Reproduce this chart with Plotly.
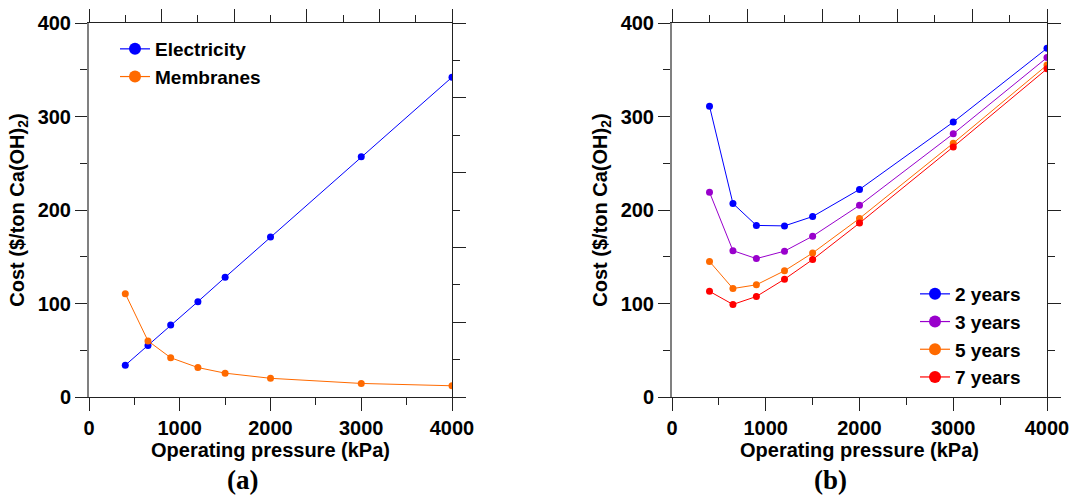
import plotly.graph_objects as go

# ---- data ----
pressure = [400, 650, 900, 1200, 1500, 2000, 3000, 4000]
electricity = [34, 55, 77, 102, 128, 171, 257, 342]
membranes = [110.5, 60, 42, 31.5, 25.5, 20, 14.5, 12]

years_labels = ["2 years", "3 years", "5 years", "7 years"]
cost_2y = [311, 207, 183.5, 183, 193, 222, 294, 373]
cost_3y = [219, 156.5, 148, 156, 172, 205, 281.5, 363]
cost_5y = [145, 116, 120, 135, 154, 191, 271.5, 355]
cost_7y = [113, 99, 107.5, 126, 147, 186, 267.5, 351]

x_ticks = [0, 1000, 2000, 3000, 4000]
y_ticks = [0, 100, 200, 300, 400]
panel_labels = ["(a)", "(b)"]

BLUE = "#0000ff"
ORANGE = "#ff6a00"
PURPLE = "#9900cc"
RED = "#ff0000"

FONT = "Arial, Liberation Sans, sans-serif"
AX = "#222222"

W, H = 1071, 496
T, B = 23, 99
PH = H - T - B

fig = go.Figure()

def add_series(x, y, color, name, xa, ya, legend):
    fig.add_trace(go.Scatter(x=x, y=y, mode="lines+markers", name=name,
                             line=dict(color=color, width=1),
                             marker=dict(color=color, size=7),
                             xaxis=xa, yaxis=ya, showlegend=False, hoverinfo="skip"))
    fig.add_trace(go.Scatter(x=[None], y=[None], mode="lines+markers", name=name,
                             line=dict(color=color, width=1.2),
                             marker=dict(color=color, size=12),
                             xaxis=xa, yaxis=ya, showlegend=True, legend=legend))

add_series(pressure, electricity, BLUE, "Electricity", "x", "y", "legend")
add_series(pressure, membranes, ORANGE, "Membranes", "x", "y", "legend")

for vals, col, lab in zip([cost_2y, cost_3y, cost_5y, cost_7y],
                          [BLUE, PURPLE, ORANGE, RED], years_labels):
    add_series(pressure, vals, col, lab, "x2", "y2", "legend2")

tickfont = dict(family=FONT, size=20, color="black", weight="bold")
titlefont = dict(family=FONT, size=20, color="black", weight="bold")

def xmain(domain, anchor):
    return dict(domain=domain, anchor=anchor, range=[0, 4000], tickvals=x_ticks,
                ticks="outside", ticklen=13, tickwidth=1.3, tickcolor=AX,
                minor=dict(dtick=500, tick0=0, ticks="outside", ticklen=7,
                           tickwidth=1.3, tickcolor=AX),
                showline=True, linecolor=AX, linewidth=1.3, showgrid=False,
                zeroline=False, tickfont=tickfont, automargin=False,
                title=dict(text="Operating pressure (kPa)", font=titlefont, standoff=4))

def ymain(anchor, standoff):
    return dict(domain=[0, 1], anchor=anchor, range=[0, 400], tickvals=y_ticks,
                ticks="outside", ticklen=12, tickwidth=1.3, tickcolor=AX,
                minor=dict(dtick=50, tick0=0, ticks="outside", ticklen=7,
                           tickwidth=1.3, tickcolor=AX),
                showline=True, linecolor="#808080", linewidth=2, showgrid=False,
                zeroline=False, tickfont=tickfont, automargin=False,
                title=dict(text="Cost ($/ton Ca(OH)<sub>2</sub>)", font=titlefont,
                           standoff=standoff))

def xtop(overlay, anchor):
    return dict(overlaying=overlay, anchor=anchor, side="top", range=[0, 4000],
                dtick=800, tick0=0, ticks="outside", ticklen=13, tickwidth=1.3,
                tickcolor=AX, minor=dict(dtick=400, tick0=0, ticks="outside",
                                         ticklen=7, tickwidth=1.3, tickcolor=AX),
                showline=True, linecolor=AX, linewidth=1.3, showgrid=False,
                zeroline=False, showticklabels=False, automargin=False)

def yright(overlay, anchor, major, minor):
    return dict(overlaying=overlay, anchor=anchor, side="right", range=[0, 400],
                dtick=major, tick0=0, ticks="outside", ticklen=13, tickwidth=1.3,
                tickcolor=AX, minor=dict(dtick=minor, tick0=0, ticks="outside",
                                         ticklen=7, tickwidth=1.3, tickcolor=AX),
                showline=True, linecolor=AX, linewidth=1.3, showgrid=False,
                zeroline=False, showticklabels=False, automargin=False)

dom_a = [89 / W, 452 / W]
dom_b = [672 / W, 1047 / W]

# dummy traces so overlay axes render
fig.add_trace(go.Scatter(x=[None], y=[None], xaxis="x3", yaxis="y3", showlegend=False))
fig.add_trace(go.Scatter(x=[None], y=[None], xaxis="x4", yaxis="y4", showlegend=False))

def py(pix):
    return (H - B - pix) / PH

panel_font = dict(family="Liberation Serif, Times New Roman, serif", size=27,
                  color="black", weight="bold")

fig.update_layout(
    width=W, height=H,
    margin=dict(l=0, r=0, t=T, b=B, autoexpand=False),
    paper_bgcolor="white", plot_bgcolor="white",
    font=dict(family=FONT, color="black"),
    xaxis=xmain(dom_a, "y"),
    yaxis=ymain("x", 8),
    xaxis2=xmain(dom_b, "y2"),
    yaxis2=ymain("x2", 8),
    xaxis3=dict(xtop("x", "y3"), domain=dom_a),
    yaxis3=dict(yright("y", "x3", 80, 40), domain=[0, 1]),
    xaxis4=dict(xtop("x2", "y4"), domain=dom_b),
    yaxis4=dict(yright("y2", "x4", 100, 50), domain=[0, 1]),
    legend=dict(x=115 / W, y=py(30), xref="paper", yref="paper",
                xanchor="left", yanchor="top", bgcolor="rgba(0,0,0,0)",
                font=dict(family=FONT, size=19, color="black", weight="bold"),
                tracegroupgap=0),
    legend2=dict(x=915 / W, y=py(275), xref="paper", yref="paper",
                 xanchor="left", yanchor="top", bgcolor="rgba(0,0,0,0)",
                 font=dict(family=FONT, size=19, color="black", weight="bold"),
                 tracegroupgap=0),
    annotations=[
        dict(text=panel_labels[0], x=242 / W, y=py(480), xref="paper", yref="paper",
             xanchor="center", yanchor="middle", showarrow=False, font=panel_font),
        dict(text=panel_labels[1], x=830 / W, y=py(480), xref="paper", yref="paper",
             xanchor="center", yanchor="middle", showarrow=False, font=panel_font),
    ],
)

fig.write_html("out.html", config={"displayModeBar": False},
               post_script="document.body.style.margin='0';")
